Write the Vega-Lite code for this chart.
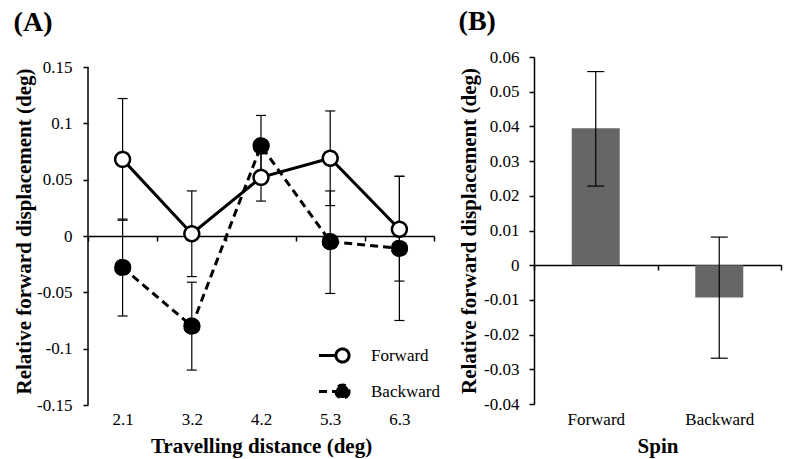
{
  "$schema": "https://vega.github.io/schema/vega-lite/v6.json",
  "padding": {"left": 13, "top": 8, "right": 5, "bottom": 2},
  "background": "#ffffff",
  "config": {
    "font": "Liberation Serif",
    "view": {"stroke": null},
    "axis": {
      "labelFont": "Liberation Serif", "labelFontSize": 17, "labelColor": "#000000",
      "titleFont": "Liberation Serif", "titleFontSize": 21, "titleFontWeight": "bold", "titleColor": "#000000",
      "domainColor": "#000000", "tickColor": "#000000", "domainWidth": 1.5, "tickWidth": 1.5, "tickSize": 5, "grid": false, "labelOverlap": false
    },
    "title": {"font": "Liberation Serif", "fontSize": 28, "fontWeight": "bold", "color": "#000000", "anchor": "start", "frame": "bounds"}
  },
  "datasets": {
    "a": [
      {"dist": "2.1", "series": "Forward", "mean": 0.068, "lo": 0.014, "hi": 0.122},
      {"dist": "3.2", "series": "Forward", "mean": 0.002, "lo": -0.036, "hi": 0.040},
      {"dist": "4.2", "series": "Forward", "mean": 0.052, "lo": 0.031, "hi": 0.073},
      {"dist": "5.3", "series": "Forward", "mean": 0.069, "lo": 0.027, "hi": 0.111},
      {"dist": "6.3", "series": "Forward", "mean": 0.006, "lo": -0.040, "hi": 0.053},
      {"dist": "2.1", "series": "Backward", "mean": -0.028, "lo": -0.071, "hi": 0.015},
      {"dist": "3.2", "series": "Backward", "mean": -0.080, "lo": -0.119, "hi": -0.041},
      {"dist": "4.2", "series": "Backward", "mean": 0.080, "lo": 0.053, "hi": 0.107},
      {"dist": "5.3", "series": "Backward", "mean": -0.005, "lo": -0.051, "hi": 0.040},
      {"dist": "6.3", "series": "Backward", "mean": -0.011, "lo": -0.075, "hi": 0.053}
    ],
    "b": [
      {"spin": "Forward", "mean": 0.0395, "lo": 0.0228, "hi": 0.0558},
      {"spin": "Backward", "mean": -0.0093, "lo": -0.0268, "hi": 0.0081}
    ]
  },
  "spacing": 23,
  "hconcat": [
    {
      "width": 346,
      "height": 348,
      "title": {"text": "(A)", "offset": 20},
      "data": {"name": "a"},
      "encoding": {
        "x": {
          "field": "dist", "type": "ordinal",
          "scale": {"paddingInner": 0, "paddingOuter": 0},
          "axis": {"title": "Travelling distance (deg)", "offset": -169, "tickBand": "extent", "labelAngle": 0, "labelPadding": 170, "titlePadding": 8}
        }
      },
      "layer": [
        {
          "data": {"values": [{"line": "y axis"}]},
          "mark": {"type": "rule", "color": "#000000", "strokeWidth": 1.5},
          "encoding": {
            "x": {"datum": "2.1", "type": "ordinal", "bandPosition": 0},
            "y": {"datum": -0.15, "type": "quantitative"},
            "y2": {"datum": 0.15}
          }
        },
        {
          "mark": {"type": "rule", "color": "#000000", "strokeWidth": 1.2},
          "encoding": {
            "y": {
              "field": "lo", "type": "quantitative",
              "scale": {"domain": [-0.15, 0.15888], "nice": false, "zero": false},
              "axis": {"title": "Relative forward displacement (deg)", "domain": false, "tickCount": 20, "values": [-0.15, -0.1, -0.05, 0, 0.05, 0.1, 0.15], "labelExpr": "'' + datum.value", "labelPadding": 11, "titlePadding": 2}
            },
            "y2": {"field": "hi"}
          }
        },
        {
          "mark": {"type": "tick", "color": "#000000", "size": 10, "thickness": 1.2, "opacity": 1, "orient": "horizontal"},
          "encoding": {"y": {"field": "lo", "type": "quantitative"}}
        },
        {
          "mark": {"type": "tick", "color": "#000000", "size": 10, "thickness": 1.2, "opacity": 1, "orient": "horizontal"},
          "encoding": {"y": {"field": "hi", "type": "quantitative"}}
        },
        {
          "transform": [{"filter": "datum.series === 'Forward'"}],
          "mark": {"type": "line", "color": "#000000", "strokeWidth": 3},
          "encoding": {"y": {"field": "mean", "type": "quantitative"}}
        },
        {
          "transform": [{"filter": "datum.series === 'Backward'"}],
          "mark": {"type": "line", "color": "#000000", "strokeWidth": 3, "strokeDash": [8, 5]},
          "encoding": {"y": {"field": "mean", "type": "quantitative"}}
        },
        {
          "mark": {"type": "point", "filled": true, "stroke": "#000000", "strokeWidth": 2.5, "size": 220, "opacity": 1},
          "encoding": {
            "y": {"field": "mean", "type": "quantitative"},
            "fill": {
              "field": "series", "type": "nominal",
              "scale": {"domain": ["Forward", "Backward"], "range": ["#ffffff", "#000000"]},
              "legend": {"title": null, "orient": "none", "legendX": 237, "legendY": 281, "padding": 0,
                "symbolType": "M-1.47,0L-0.41,0M0.41,0A0.41,0.41,0,1,1,-0.41,0A0.41,0.41,0,1,1,0.41,0Z",
                "symbolSize": 1024, "symbolStrokeWidth": 3, "symbolStrokeColor": "#000000",
                "labelFont": "Liberation Serif", "labelFontSize": 17, "labelColor": "#000000", "labelOffset": 11, "rowPadding": 5}
            },
            "strokeDash": {
              "field": "series", "type": "nominal",
              "scale": {"domain": ["Forward", "Backward"], "range": [[1, 0], [8, 5]]},
              "legend": {"title": null, "orient": "none", "legendX": 237, "legendY": 281, "padding": 0,
                "symbolType": "M-1.47,0L-0.41,0M0.41,0A0.41,0.41,0,1,1,-0.41,0A0.41,0.41,0,1,1,0.41,0Z",
                "symbolSize": 1024, "symbolStrokeWidth": 3, "symbolStrokeColor": "#000000",
                "labelFont": "Liberation Serif", "labelFontSize": 17, "labelColor": "#000000", "labelOffset": 11, "rowPadding": 5}
            }
          }
        },
        {
          "transform": [{"filter": "datum.series === 'Backward'"}],
          "mark": {"type": "point", "filled": true, "color": "#000000", "strokeWidth": 0, "size": 290, "opacity": 1},
          "encoding": {"y": {"field": "mean", "type": "quantitative"}}
        }
      ]
    },
    {
      "width": 247,
      "height": 347,
      "title": {"text": "(B)", "offset": 12},
      "data": {"name": "b"},
      "encoding": {
        "x": {
          "field": "spin", "type": "nominal", "sort": ["Forward", "Backward"],
          "scale": {"paddingInner": 0, "paddingOuter": 0},
          "axis": {"title": "Spin", "offset": -139, "tickBand": "extent", "labelAngle": 0, "labelPadding": 141, "titlePadding": 8}
        }
      },
      "layer": [
        {
          "mark": {"type": "bar", "color": "#666666", "width": 48},
          "encoding": {
            "y": {
              "field": "mean", "type": "quantitative", "stack": null,
              "scale": {"domain": [-0.04, 0.06], "nice": false},
              "axis": {"title": "Relative forward displacement (deg)", "tickCount": 30, "values": [-0.04, -0.03, -0.02, -0.01, 0, 0.01, 0.02, 0.03, 0.04, 0.05, 0.06], "labelExpr": "'' + datum.value", "labelOverlap": false, "labelPadding": 10, "titlePadding": 4}
            }
          }
        },
        {
          "mark": {"type": "rule", "color": "#000000", "strokeWidth": 1.2},
          "encoding": {"y": {"field": "lo", "type": "quantitative"}, "y2": {"field": "hi"}}
        },
        {
          "mark": {"type": "tick", "color": "#000000", "size": 17, "thickness": 1.2, "opacity": 1, "orient": "horizontal"},
          "encoding": {"y": {"field": "lo", "type": "quantitative"}}
        },
        {
          "mark": {"type": "tick", "color": "#000000", "size": 17, "thickness": 1.2, "opacity": 1, "orient": "horizontal"},
          "encoding": {"y": {"field": "hi", "type": "quantitative"}}
        }
      ]
    }
  ]
}
